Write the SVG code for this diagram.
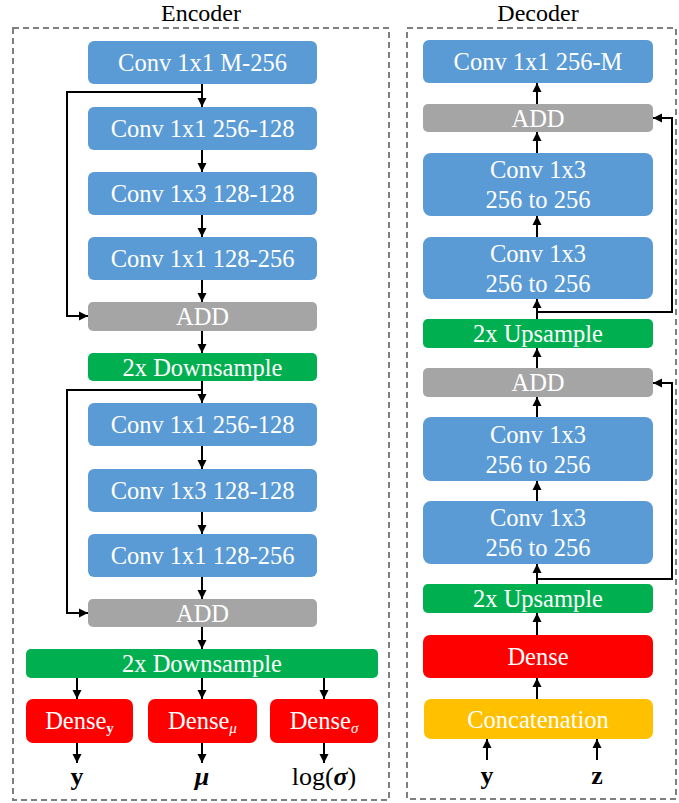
<svg xmlns="http://www.w3.org/2000/svg" width="679" height="803" viewBox="0 0 679 803">
  <defs>
    <marker id="arrow" viewBox="0 0 10 10" refX="10" refY="5" markerWidth="9" markerHeight="10" markerUnits="userSpaceOnUse" orient="auto">
      <path d="M0,0 L10,5 L0,10 Z" fill="#000"/>
    </marker>
    <style>
      .frame { fill: none; stroke: #7f7f7f; stroke-width: 2; stroke-dasharray: 6 4; }
      .title { font-family: "Liberation Serif", "Times New Roman", serif; font-size: 24px; fill: #000; text-anchor: middle; }
      .conv { fill: #5b9bd5; }
      .add { fill: #a5a5a5; }
      .sample { fill: #00b050; }
      .dense { fill: #ff0000; }
      .concat { fill: #ffc000; }
      .lbl { font-family: "Liberation Serif", "Times New Roman", serif; font-size: 24.5px; fill: #fff; text-anchor: middle; }
      .out { font-family: "Liberation Serif", "Times New Roman", serif; font-size: 26px; fill: #000; text-anchor: middle; }
      .arr { fill: none; stroke: #000; stroke-width: 2; marker-end: url(#arrow); }
    </style>
  </defs>
  <rect width="679" height="803" fill="#fff"/>

  <!-- Encoder panel -->
  <g id="encoder-frame">
    <rect class="frame" x="13" y="28" width="376" height="772"/>
    <text class="title" x="201" y="21">Encoder</text>
  </g>
  <!-- Decoder panel -->
  <g id="decoder-frame">
    <rect class="frame" x="407" y="28" width="269" height="771"/>
    <text class="title" x="538" y="21">Decoder</text>
  </g>

  <!-- Encoder nodes -->
  <g id="enc-conv-in"><rect class="conv" x="88" y="41" width="229" height="43" rx="6"/><text class="lbl" x="202.5" y="71">Conv 1x1 M-256</text></g>
  <g id="enc-r1-c1"><rect class="conv" x="88" y="107" width="229" height="43" rx="6"/><text class="lbl" x="202.5" y="137">Conv 1x1 256-128</text></g>
  <g id="enc-r1-c2"><rect class="conv" x="88" y="172" width="229" height="43" rx="6"/><text class="lbl" x="202.5" y="202">Conv 1x3 128-128</text></g>
  <g id="enc-r1-c3"><rect class="conv" x="88" y="237" width="229" height="43" rx="6"/><text class="lbl" x="202.5" y="267">Conv 1x1 128-256</text></g>
  <g id="enc-r1-add"><rect class="add" x="88" y="302" width="229" height="29" rx="5"/><text class="lbl" x="202.5" y="325">ADD</text></g>
  <g id="enc-down1"><rect class="sample" x="88" y="353" width="229" height="28" rx="5"/><text class="lbl" x="202.5" y="376">2x Downsample</text></g>
  <g id="enc-r2-c1"><rect class="conv" x="88" y="403" width="229" height="43" rx="6"/><text class="lbl" x="202.5" y="433">Conv 1x1 256-128</text></g>
  <g id="enc-r2-c2"><rect class="conv" x="88" y="469" width="229" height="43" rx="6"/><text class="lbl" x="202.5" y="499">Conv 1x3 128-128</text></g>
  <g id="enc-r2-c3"><rect class="conv" x="88" y="534" width="229" height="43" rx="6"/><text class="lbl" x="202.5" y="564">Conv 1x1 128-256</text></g>
  <g id="enc-r2-add"><rect class="add" x="88" y="599" width="229" height="28" rx="5"/><text class="lbl" x="202.5" y="622">ADD</text></g>
  <g id="enc-down2"><rect class="sample" x="26" y="649" width="352" height="29" rx="5"/><text class="lbl" x="202" y="672">2x Downsample</text></g>
  <g id="enc-dense-y"><rect class="dense" x="26" y="699" width="107" height="44" rx="7"/><text class="lbl" x="79.5" y="729">Dense<tspan font-size="15" font-weight="bold" dy="4">y</tspan></text></g>
  <g id="enc-dense-mu"><rect class="dense" x="148" y="699" width="109" height="44" rx="7"/><text class="lbl" x="202.5" y="729">Dense<tspan font-size="15" font-style="italic" dy="4">μ</tspan></text></g>
  <g id="enc-dense-sigma"><rect class="dense" x="270" y="699" width="108" height="44" rx="7"/><text class="lbl" x="324" y="729">Dense<tspan font-size="15" font-style="italic" dy="4">σ</tspan></text></g>
  <g id="enc-out-y"><text class="out" x="77" y="785" font-weight="bold">y</text></g>
  <g id="enc-out-mu"><text class="out" x="202" y="785" font-weight="bold" font-style="italic">μ</text></g>
  <g id="enc-out-sigma"><text class="out" x="324" y="785">log(<tspan font-weight="bold" font-style="italic">σ</tspan>)</text></g>

  <!-- Decoder nodes -->
  <g id="dec-conv-out"><rect class="conv" x="423" y="40" width="230" height="43" rx="6"/><text class="lbl" x="538" y="70">Conv 1x1 256-M</text></g>
  <g id="dec-r2-add"><rect class="add" x="423" y="104" width="230" height="28" rx="5"/><text class="lbl" x="538" y="127">ADD</text></g>
  <g id="dec-r2-c2"><rect class="conv" x="423" y="153" width="230" height="63" rx="8"/><text class="lbl" x="538" y="178">Conv 1x3</text><text class="lbl" x="538" y="208">256 to 256</text></g>
  <g id="dec-r2-c1"><rect class="conv" x="423" y="237" width="230" height="62" rx="8"/><text class="lbl" x="538" y="262">Conv 1x3</text><text class="lbl" x="538" y="292">256 to 256</text></g>
  <g id="dec-up2"><rect class="sample" x="423" y="319" width="230" height="29" rx="5"/><text class="lbl" x="538" y="342">2x Upsample</text></g>
  <g id="dec-r1-add"><rect class="add" x="423" y="368" width="230" height="29" rx="5"/><text class="lbl" x="538" y="391">ADD</text></g>
  <g id="dec-r1-c2"><rect class="conv" x="423" y="417" width="230" height="64" rx="8"/><text class="lbl" x="538" y="443">Conv 1x3</text><text class="lbl" x="538" y="473">256 to 256</text></g>
  <g id="dec-r1-c1"><rect class="conv" x="423" y="501" width="230" height="63" rx="8"/><text class="lbl" x="538" y="526">Conv 1x3</text><text class="lbl" x="538" y="556">256 to 256</text></g>
  <g id="dec-up1"><rect class="sample" x="423" y="584" width="230" height="29" rx="5"/><text class="lbl" x="538" y="607">2x Upsample</text></g>
  <g id="dec-dense"><rect class="dense" x="423" y="635" width="230" height="43" rx="7"/><text class="lbl" x="538" y="665">Dense</text></g>
  <g id="dec-concat"><rect class="concat" x="424" y="699" width="229" height="40" rx="7"/><text class="lbl" x="538" y="728">Concatenation</text></g>
  <g id="dec-in-y"><text class="out" x="487" y="784" font-weight="bold">y</text></g>
  <g id="dec-in-z"><text class="out" x="597" y="784" font-weight="bold">z</text></g>

  <!-- Connectors -->
  <g id="connectors">
    <!-- encoder main path -->
    <line class="arr" x1="202" y1="84" x2="202" y2="107"/>
    <line class="arr" x1="202" y1="150" x2="202" y2="172"/>
    <line class="arr" x1="202" y1="215" x2="202" y2="237"/>
    <line class="arr" x1="202" y1="280" x2="202" y2="302"/>
    <line class="arr" x1="202" y1="331" x2="202" y2="353"/>
    <line class="arr" x1="202" y1="381" x2="202" y2="403"/>
    <line class="arr" x1="202" y1="446" x2="202" y2="469"/>
    <line class="arr" x1="202" y1="512" x2="202" y2="534"/>
    <line class="arr" x1="202" y1="577" x2="202" y2="599"/>
    <line class="arr" x1="202" y1="627" x2="202" y2="649"/>
    <line class="arr" x1="77" y1="678" x2="77" y2="699"/>
    <line class="arr" x1="202" y1="678" x2="202" y2="699"/>
    <line class="arr" x1="324" y1="678" x2="324" y2="699"/>
    <line class="arr" x1="77" y1="743" x2="77" y2="763"/>
    <line class="arr" x1="202" y1="743" x2="202" y2="763"/>
    <line class="arr" x1="324" y1="743" x2="324" y2="763"/>
    <!-- encoder skip connections -->
    <polyline class="arr" points="203,92 67,92 67,316 88,316"/>
    <polyline class="arr" points="203,390 67,390 67,613 88,613"/>

    <!-- decoder main path (upward) -->
    <line class="arr" x1="487" y1="760" x2="487" y2="739"/>
    <line class="arr" x1="597" y1="760" x2="597" y2="739"/>
    <line class="arr" x1="537" y1="699" x2="537" y2="678"/>
    <line class="arr" x1="537" y1="635" x2="537" y2="613"/>
    <line class="arr" x1="537" y1="584" x2="537" y2="564"/>
    <line class="arr" x1="537" y1="501" x2="537" y2="481"/>
    <line class="arr" x1="537" y1="417" x2="537" y2="397"/>
    <line class="arr" x1="537" y1="368" x2="537" y2="348"/>
    <line class="arr" x1="537" y1="319" x2="537" y2="299"/>
    <line class="arr" x1="537" y1="237" x2="537" y2="216"/>
    <line class="arr" x1="537" y1="153" x2="537" y2="132"/>
    <line class="arr" x1="537" y1="104" x2="537" y2="83"/>
    <!-- decoder skip connections -->
    <polyline class="arr" points="536,579 672,579 672,383 653,383"/>
    <polyline class="arr" points="536,312 672,312 672,118 653,118"/>
  </g>
</svg>
